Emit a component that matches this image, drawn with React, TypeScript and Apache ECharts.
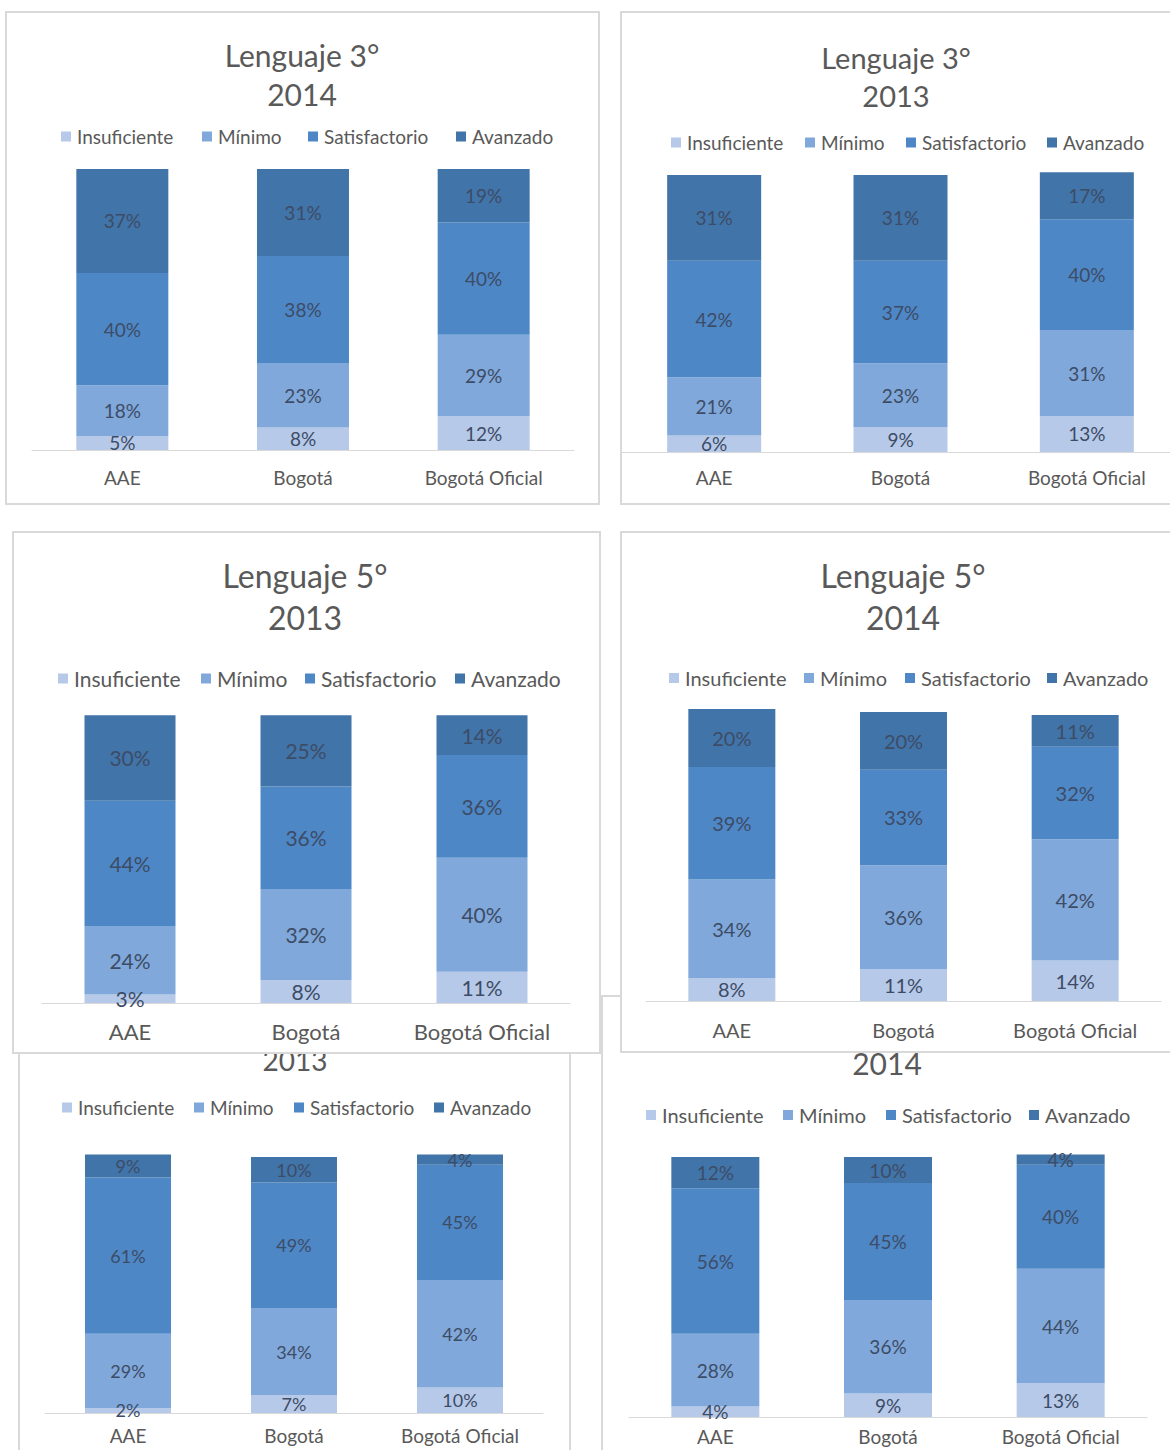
import React, { useEffect, useRef } from "react";
import * as echarts from "echarts";

const categories = ["AAE", "Bogotá", "Bogotá Oficial"];
const levels = ["Insuficiente", "Mínimo", "Satisfactorio", "Avanzado"];
const levelColors = ["#b6c9e8", "#80a8da", "#4d87c6", "#4174a9"];

// rows: Insuficiente, Mínimo, Satisfactorio, Avanzado ; columns: AAE, Bogotá, Bogotá Oficial
const lenguaje3_2014 = [[5, 8, 12], [18, 23, 29], [40, 38, 40], [37, 31, 19]];
const lenguaje3_2013 = [[6, 9, 13], [21, 23, 31], [42, 37, 40], [31, 31, 17]];
const lenguaje5_2013 = [[3, 8, 11], [24, 32, 40], [44, 36, 36], [30, 25, 14]];
const lenguaje5_2014 = [[8, 11, 14], [34, 36, 42], [39, 33, 32], [20, 20, 11]];
const lowerLeft_2013 = [[2, 7, 10], [29, 34, 42], [61, 49, 45], [9, 10, 4]];
const lowerRight_2014 = [[4, 9, 13], [28, 36, 44], [56, 45, 40], [12, 10, 4]];

const FONT = "Lato, 'Open Sans', sans-serif";
const TEXT = "#595959";
const LABEL = "#3d4c66";

type PanelCfg = {
  x: number; y: number; w: number; h: number; z: number;
  title: string[]; titleX: number; titleY: number[]; titleSize: number;
  legendX: number[]; legendY: number; legendSize: number;
  gridLeft: number; gridWidth: number; axisY: number; fullY: number;
  barWidth: number; labelSize: number; catSize: number; catMargin: number;
  data: number[][];
};

const panels: PanelCfg[] = [
  {
    x: 5, y: 11, w: 595, h: 494, z: 1,
    title: ["Lenguaje 3°", "2014"], titleX: 302, titleY: [55, 94], titleSize: 30,
    legendX: [61, 202, 308, 456], legendY: 137, legendSize: 19,
    gridLeft: 32, gridWidth: 542, axisY: 450, fullY: 169,
    barWidth: 92, labelSize: 19, catSize: 19, catMargin: 18,
    data: lenguaje3_2014,
  },
  {
    x: 620, y: 11, w: 560, h: 494, z: 1,
    title: ["Lenguaje 3°", "2013"], titleX: 896, titleY: [57, 95], titleSize: 29,
    legendX: [671, 805, 906, 1047], legendY: 143, legendSize: 19,
    gridLeft: 621, gridWidth: 560, axisY: 452, fullY: 175,
    barWidth: 94, labelSize: 19, catSize: 19, catMargin: 16,
    data: lenguaje3_2013,
  },
  {
    x: 12, y: 531, w: 589, h: 523, z: 2,
    title: ["Lenguaje 5°", "2013"], titleX: 305, titleY: [575, 617], titleSize: 32,
    legendX: [58, 201, 305, 455], legendY: 679, legendSize: 21,
    gridLeft: 42, gridWidth: 528, axisY: 1003, fullY: 718,
    barWidth: 91, labelSize: 21, catSize: 22, catMargin: 17,
    data: lenguaje5_2013,
  },
  {
    x: 620, y: 531, w: 560, h: 522, z: 2,
    title: ["Lenguaje 5°", "2014"], titleX: 903, titleY: [575, 617], titleSize: 32,
    legendX: [669, 804, 905, 1047], legendY: 678, legendSize: 20,
    gridLeft: 646, gridWidth: 515, axisY: 1001, fullY: 712,
    barWidth: 87, labelSize: 20, catSize: 20, catMargin: 19,
    data: lenguaje5_2014,
  },
  {
    x: 18, y: 990, w: 553, h: 480, z: 1,
    title: ["2013"], titleX: 295, titleY: [1060], titleSize: 28,
    legendX: [62, 194, 294, 434], legendY: 1108, legendSize: 19,
    gridLeft: 45, gridWidth: 498, axisY: 1413, fullY: 1157,
    barWidth: 86, labelSize: 18, catSize: 19, catMargin: 13,
    data: lowerLeft_2013,
  },
  {
    x: 601, y: 995, w: 580, h: 475, z: 1,
    title: ["2014"], titleX: 887, titleY: [1063], titleSize: 30,
    legendX: [646, 783, 886, 1029], legendY: 1115, legendSize: 20,
    gridLeft: 629, gridWidth: 518, axisY: 1417, fullY: 1157,
    barWidth: 88, labelSize: 19, catSize: 19, catMargin: 10,
    data: lowerRight_2014,
  },
];

function buildOption(c: PanelCfg) {
  return {
    animation: false,
    graphic: c.title.map((t, i) => ({
      type: "text",
      x: c.titleX - c.x,
      y: c.titleY[i] - c.y,
      style: {
        text: t,
        fill: TEXT,
        fontSize: c.titleSize,
        fontFamily: FONT,
        textAlign: "center",
        textVerticalAlign: "middle",
        align: "center",
        verticalAlign: "middle",
      },
    })),
    legend: levels.map((name, i) => ({
      data: [name],
      left: c.legendX[i] - c.x,
      top: c.legendY - c.y - Math.round(c.legendSize / 2),
      padding: 0,
      icon: "rect",
      itemWidth: 10,
      itemHeight: 10,
      itemGap: 0,
      selectedMode: false,
      textStyle: { color: TEXT, fontSize: c.legendSize, fontFamily: FONT, padding: [0, 0, 0, 1] },
    })),
    grid: {
      left: c.gridLeft - c.x,
      top: c.fullY - c.y,
      width: c.gridWidth,
      height: c.axisY - c.fullY,
    },
    xAxis: {
      type: "category",
      data: categories,
      axisLine: { lineStyle: { color: "#d9d9d9", width: 1 } },
      axisTick: { show: false },
      axisLabel: {
        interval: 0,
        hideOverlap: false,
        color: TEXT,
        fontSize: c.catSize,
        fontFamily: FONT,
        margin: c.catMargin,
      },
    },
    yAxis: { type: "value", min: 0, max: 100, show: false },
    series: levels.map((name, i) => ({
      name,
      type: "bar",
      stack: "total",
      barWidth: c.barWidth,
      clip: false,
      data: c.data[i],
      itemStyle: { color: levelColors[i] },
      label: {
        show: true,
        position: "inside",
        formatter: "{c}%",
        color: LABEL,
        fontSize: c.labelSize,
        fontFamily: FONT,
      },
    })),
  };
}

function Panel({ cfg }: { cfg: PanelCfg }) {
  const ref = useRef<HTMLDivElement>(null);
  useEffect(() => {
    const chart = echarts.init(ref.current!, null, { renderer: "svg" });
    chart.setOption(buildOption(cfg) as any);
    return () => chart.dispose();
  }, [cfg]);
  return (
    <div
      style={{
        position: "absolute",
        left: cfg.x,
        top: cfg.y,
        width: cfg.w,
        height: cfg.h,
        zIndex: cfg.z,
        background: "#fff",
      }}
    >
      <div ref={ref} style={{ position: "absolute", left: 0, top: 0, width: cfg.w, height: cfg.h }} />
      <div
        style={{
          position: "absolute",
          left: 0,
          top: 0,
          right: 0,
          bottom: 0,
          border: "2px solid #d9d9d9",
          boxSizing: "border-box",
          pointerEvents: "none",
        }}
      />
    </div>
  );
}

export default function App() {
  return (
    <div
      style={{
        position: "absolute",
        left: 0,
        top: 0,
        width: 1170,
        height: 1450,
        overflow: "hidden",
        background: "#fff",
      }}
    >
      {panels.map((p, i) => (
        <Panel key={i} cfg={p} />
      ))}
    </div>
  );
}
